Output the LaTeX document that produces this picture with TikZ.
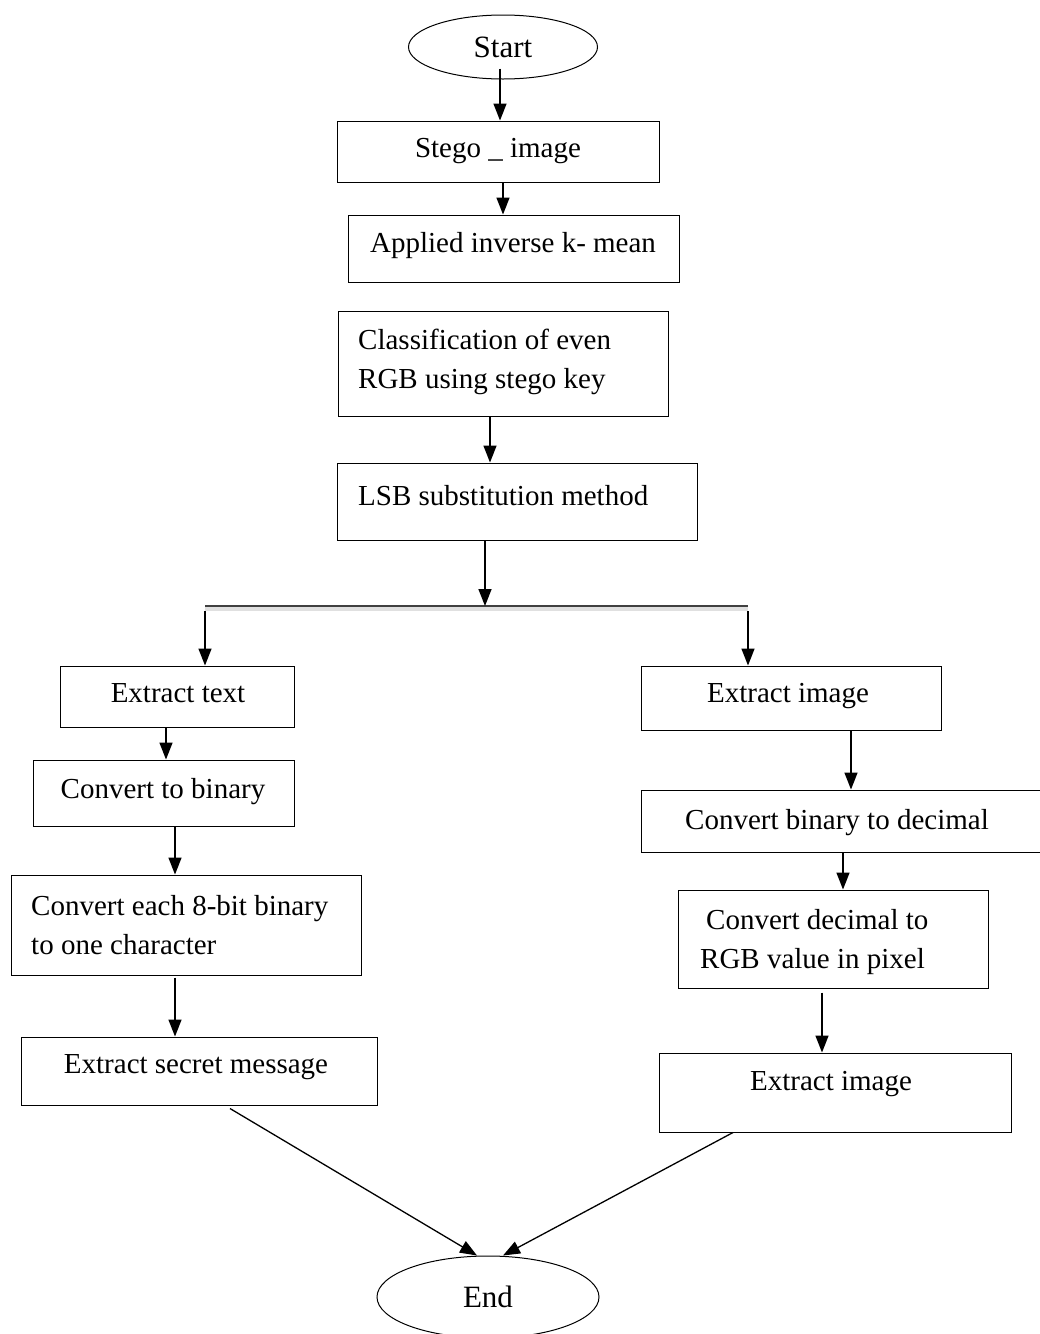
\documentclass[tikz,border=0pt]{standalone}
\usepackage{fontspec}
\setmainfont{Liberation Serif}
\usetikzlibrary{arrows.meta,shapes.geometric}

\tikzset{
  box/.style={draw, line width=1pt, rectangle, inner sep=0pt},
  oval/.style={draw, line width=1pt, ellipse, inner sep=0pt},
  txt/.style={inner sep=0pt, font=\fontsize{29}{39}\selectfont},
  termtxt/.style={inner sep=0pt, font=\fontsize{31}{39}\selectfont},
  arr/.style={line width=1.6pt, -{Triangle[length=17pt,width=13pt]}},
}

\begin{document}
\begin{tikzpicture}[x=1pt,y=-1pt]
\useasboundingbox (0,0) rectangle (1040,1334);

% terminals
\node[oval, minimum width=189pt, minimum height=64pt] (start) at (503,47) {};
\node[termtxt] (startT) at (503,47) {Start};
\node[oval, minimum width=222pt, minimum height=82pt] (end) at (488,1297) {};
\node[termtxt] (endT) at (488,1297) {End};

% main column
\node[box, minimum width=322pt, minimum height=61pt] (stego) at (498,151.5) {};
\node[txt] (stegoT) at (498,151) {Stego \_ image};
\node[box, minimum width=331pt, minimum height=67pt] (kmean) at (513.5,248.5) {};
\node[txt] (kmeanT) at (513,246) {Applied inverse k- mean};
\node[box, minimum width=330pt, minimum height=105pt] (classify) at (503,363.5) {};
\node[txt, anchor=west, align=left] (classifyT) at (358,362) {Classification of even\\RGB using stego key};
\node[box, minimum width=360pt, minimum height=77pt] (lsb) at (517,501.5) {};
\node[txt, anchor=west] (lsbT) at (358,496) {LSB substitution method};

% split bar
\coordinate (busM) at (485,606);
\coordinate (busL) at (205,606);
\coordinate (busR) at (748,606);
\draw[line width=4pt, black!12] ([yshift=-3pt]busL) -- ([yshift=-3pt]busR);
\draw[line width=1.2pt, black!75] (busL) -- (busR);

% left branch
\node[box, minimum width=234pt, minimum height=61pt] (exText) at (177,696.5) {};
\node[txt] (exTextT) at (178,693) {Extract text};
\node[box, minimum width=261pt, minimum height=66pt] (toBin) at (163.5,793) {};
\node[txt] (toBinT) at (163,792) {Convert to binary};
\node[box, minimum width=350pt, minimum height=100pt] (toChar) at (186,925) {};
\node[txt, anchor=west, align=left] (toCharT) at (31,925) {Convert each 8-bit binary\\to one character};
\node[box, minimum width=356pt, minimum height=68pt] (secret) at (199,1071) {};
\node[txt] (secretT) at (196,1067) {Extract secret message};

% right branch
\node[box, minimum width=300pt, minimum height=64pt] (exImg) at (791,698) {};
\node[txt] (exImgT) at (788,696) {Extract image};
\node[box, minimum width=399pt, minimum height=62pt] (toDec) at (840.5,821) {};
\node[txt] (toDecT) at (837,823) {Convert binary to decimal};
\node[box, minimum width=310pt, minimum height=98pt] (toRGB) at (833,939) {};
\node[txt, anchor=west, align=left] (toRGBT) at (700,942.5) {\hspace*{6pt}Convert decimal to\\RGB value in pixel};
\node[box, minimum width=352pt, minimum height=79pt] (exImg2) at (835,1092.5) {};
\node[txt] (exImg2T) at (831,1084) {Extract image};

% connectors
\draw[arr] ([xshift=-3pt,yshift=11pt]start.south) -- (stego.north -| 500,0);
\draw[arr] (stego.south -| 503,0) -- (kmean.north -| 503,0);
\draw[arr] (classify.south -| 490,0) -- (lsb.north -| 490,0);
\draw[arr] (lsb.south -| 485,0) -- (busM);
\draw[arr] ([yshift=-5pt]busL) -- (exText.north -| busL);
\draw[arr] ([yshift=-5pt]busR) -- (exImg.north -| busR);
\draw[arr] (exText.south -| 166,0) -- (toBin.north -| 166,0);
\draw[arr] (toBin.south -| 175,0) -- (toChar.north -| 175,0);
\draw[arr] ([yshift=-2pt]toChar.south -| 175,0) -- (secret.north -| 175,0);
\draw[arr] (exImg.south -| 851,0) -- (toDec.north -| 851,0);
\draw[arr] (toDec.south -| 843,0) -- (toRGB.north -| 843,0);
\draw[arr] ([yshift=-4pt]toRGB.south -| 822,0) -- (exImg2.north -| 822,0);
\draw[arr, line width=1.3pt] ([yshift=-3pt]secret.south -| 230,0) -- (end.north -| 477,0);
\draw[arr, line width=1.3pt] (exImg2.south -| 733,0) -- (end.north -| 503,0);
\end{tikzpicture}
\end{document}
